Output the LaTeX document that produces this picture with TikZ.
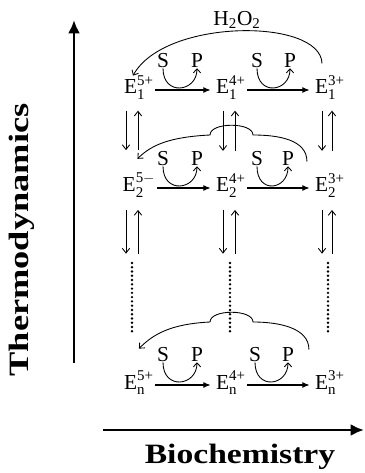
\documentclass[tikz,border=0pt]{standalone}
\usepackage{fontspec}
\setmainfont{Liberation Serif}
\usepackage{amsmath}
\usetikzlibrary{arrows.meta}

% oxidation state of the enzyme
\newcommand{\ox}[2]{$\text{E}_{\text{#1}}^{\text{#2}}$}

\begin{document}
\begin{tikzpicture}[
	x=0.75pt, y=-0.75pt,
	every node/.style={font=\fontsize{16}{19}\selectfont, inner sep=0pt},
	species/.style={anchor=base},
	axis/.style={-{Latex[length=10pt,width=9pt]}, line width=2.2pt},
	axislabel/.style={font=\fontsize{21}{24}\selectfont\bfseries},
	react/.style={-{Latex[length=5.5pt,width=4.5pt]}, line width=0.8pt},
	turn/.style={-{Straight Barb[length=3pt,width=5.5pt]}, line width=0.65pt},
	equil/.style={-{Straight Barb[length=3.5pt,width=5.5pt]}, line width=0.65pt},
	dots/.style={line width=2pt, dash pattern=on 0pt off 3.2pt, line cap=round}
	]
	\useasboundingbox (0,0) rectangle (364,473);

	% Axes
	\coordinate (yo) at (74,363);
	\coordinate (yt) at (74,20);
	\coordinate (xo) at (103,430);
	\coordinate (xt) at (364,430);
	\draw[axis] (yo) -- (yt);
	\draw[axis] (xo) -- (xt);
	\node[axislabel, rotate=90] (thermo) at (22,240) {\scalebox{1.3}[1]{Thermodynamics}};
	\node[axislabel] (bio) at (240,457) {\scalebox{1.2}[1]{Biochemistry}};

	% Row 1
	\node[species] (e11) at (139,94) {\ox{1}{5+}};
	\node[species] (e12) at (231,94) {\ox{1}{4+}};
	\node[species] (e13) at (330,94) {\ox{1}{3+}};
	\node (s11) at (163,61) {S};
	\node (p11) at (197,61) {P};
	\node (s12) at (257,61) {S};
	\node (p12) at (290,61) {P};
	\node (h2o2) at (237,20) {$\text{H}_{\text{2}}\text{O}_{\text{2}}$};

	% Row 2
	\node[species] (e21) at (139,192) {\ox{2}{5$-$}};
	\node[species] (e22) at (231,192) {\ox{2}{4+}};
	\node[species] (e23) at (330,192) {\ox{2}{3+}};
	\node (s21) at (163,159) {S};
	\node (p21) at (197,159) {P};
	\node (s22) at (257,159) {S};
	\node (p22) at (288,159) {P};

	% Row n
	\node[species] (e31) at (139,389) {\ox{n}{5+}};
	\node[species] (e32) at (231,389) {\ox{n}{4+}};
	\node[species] (e33) at (330,389) {\ox{n}{3+}};
	\node (s31) at (163,355) {S};
	\node (p31) at (197,355) {P};
	\node (s32) at (255,355) {S};
	\node (p32) at (288,355) {P};

	% Dotted columns
	\coordinate (dt1) at (132,263);
	\coordinate (db1) at (132,335);
	\coordinate (dt2) at (230,263);
	\coordinate (db2) at (230,335);
	\coordinate (dt3) at (328,263);
	\coordinate (db3) at (328,335);
	\foreach \c in {1,2,3}
	\draw[dots] (dt\c) -- (db\c);

	% Electron transfer
	\foreach \r in {1,2,3} {
		\draw[react, shorten <=1pt, shorten >=4pt] ([yshift=3pt]e\r1.base east) -- ([yshift=3pt]e\r2.base west);
		\draw[react, shorten <=1pt, shorten >=4pt] ([yshift=3pt]e\r2.base east) -- ([yshift=3pt]e\r3.base west);
		\draw[turn] (s\r1.south) .. controls +(0,28) and +(0,24) .. (p\r1.south);
		\draw[turn] (s\r2.south) .. controls +(0,28) and +(0,24) .. (p\r2.south);
	}

	% Return paths
	\draw[turn] ([shift={(-8,-12)}]e13.north) .. controls (321,18) and (165,18) .. ([shift={(-6,0)}]e11.north);
	\draw[turn] ([shift={(-8,-12)}]e23.north west) .. controls +(0,-22) and +(25,0) .. (253,135)
		.. controls +(0,-13) and +(0,-13) .. (210,135)
		.. controls +(-40,2) and +(14,-14) .. ([shift={(15,-14)}]e21.north west);
	\draw[turn] ([shift={(-6,-21)}]e33.north west) .. controls +(0,-22) and +(25,0) .. (253,322)
		.. controls +(0,-13) and +(0,-13) .. (210,322)
		.. controls +(-40,2) and +(14,-14) .. ([shift={(15,-22)}]e31.north west);

	% Equilibria between rows
	\foreach \c/\dx/\ux/\dd/\ud in {1/-13/-1/-6/6, 2/-8/4/-7/5, 3/-8/2/-6/4} {
		\draw[equil, shorten <=8pt, shorten >=17pt] ([shift={(\dx,0)}]e1\c.south) -- ([shift={(\dx,0)}]e2\c.north);
		\draw[equil, shorten <=17pt, shorten >=8pt] ([shift={(\ux,0)}]e2\c.north) -- ([shift={(\ux,0)}]e1\c.south);
		\draw[equil, shorten <=9pt, shorten >=7pt] ([shift={(\dx,0)}]e2\c.south) -- ([shift={(\dd,0)}]dt\c);
		\draw[equil, shorten <=7pt, shorten >=9pt] ([shift={(\ud,0)}]dt\c) -- ([shift={(\ux,0)}]e2\c.south);
	}
\end{tikzpicture}
\end{document}
